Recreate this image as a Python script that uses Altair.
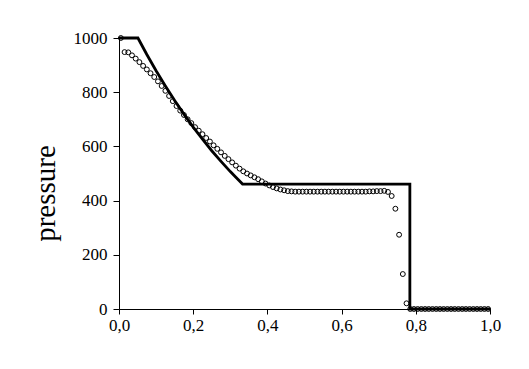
import altair as alt
import pandas as pd

# exact solution (solid line)
exact_x = [0.0, 0.051, 0.075, 0.1, 0.125, 0.15, 0.175, 0.2, 0.225, 0.25, 0.275, 0.3, 0.315, 0.333, 0.784, 0.784, 1.0]
exact_p = [1000, 1000, 939, 879, 823, 769, 719, 671, 627, 584, 545, 507, 486, 461, 461, 0, 0]

# numerical solution (open circles), cell centres 0.005 .. 0.995
num_x = [round(0.005 + 0.01 * i, 3) for i in range(100)]
num_p = [
    1000, 948, 947, 936, 924, 911, 897, 884, 870, 856,
    840, 823, 805, 786, 767, 749, 732, 716, 700, 686,
    671, 658, 645, 631, 618, 604, 591, 578, 565, 553,
    541, 529, 518, 508, 500, 493, 486, 479, 471, 463,
    456, 450, 445, 441, 438, 435, 434, 433, 433, 433,
    433, 433, 433, 433, 433, 433, 433, 433, 433, 433,
    433, 433, 433, 433, 433, 433, 433, 434, 434, 435,
    435, 436, 432, 417, 370, 274, 129, 21, 0, 0,
    0, 0, 0, 0, 0, 0, 0, 0, 0, 0,
    0, 0, 0, 0, 0, 0, 0, 0, 0, 0,
]

x_ticks = [0.0, 0.1, 0.2, 0.3, 0.4, 0.5, 0.6, 0.7, 0.8, 0.9, 1.0]
y_ticks = [0, 100, 200, 300, 400, 500, 600, 700, 800, 900, 1000]

exact_df = pd.DataFrame({"x": exact_x, "p": exact_p, "i": list(range(len(exact_x)))})
num_df = pd.DataFrame({"x": num_x, "p": num_p})

FONT = "Liberation Serif"

x_enc = alt.X(
    "x:Q",
    scale=alt.Scale(domain=[0, 1], nice=False),
    axis=alt.Axis(
        values=x_ticks,
        title=None,
        grid=False,
        labelExpr="round(datum.value*10) % 2 == 0 ? replace(format(datum.value, '.1f'), '.', ',') : ''",
        labelFlush=False,
        labelOverlap=False,
        labelFont=FONT,
        labelFontSize=17,
        labelColor="black",
        labelPadding=3,
        tickColor="black",
        domainColor="black",
        tickSize={"condition": {"test": "round(datum.value*10) % 2 == 0", "value": 5}, "value": 3},
    ),
)
y_enc = alt.Y(
    "p:Q",
    scale=alt.Scale(domain=[0, 1000], nice=False),
    axis=alt.Axis(
        values=y_ticks,
        title="pressure",
        grid=False,
        labelExpr="datum.value % 200 == 0 ? format(datum.value, 'd') : ''",
        labelFlush=False,
        labelOverlap=False,
        labelFont=FONT,
        labelFontSize=17,
        labelColor="black",
        labelPadding=6,
        tickColor="black",
        domainColor="black",
        tickSize={"condition": {"test": "datum.value % 200 == 0", "value": 6}, "value": 3},
        titleFont=FONT,
        titleFontSize=29,
        titleFontWeight="normal",
        titleColor="black",
        titleAngle=270,
        titleBaseline="alphabetic",
        titleX=-65,
        titleY=155,
    ),
)

line = alt.Chart(exact_df).mark_line(color="black", strokeWidth=2.8).encode(
    x=x_enc, y=y_enc, order="i:Q"
)
points = alt.Chart(num_df).mark_point(
    shape="circle", filled=False, color="black", strokeWidth=1, size=24, opacity=1
).encode(x="x:Q", y="p:Q")

chart = (
    alt.layer(line, points)
    .properties(
        width=371,
        height=271,
        autosize="none",
        padding={"left": 111, "top": 30, "right": 20, "bottom": 40},
    )
    .configure_view(stroke=None)
)

chart.save("out.html", embed_options={"renderer": "svg", "actions": False})
